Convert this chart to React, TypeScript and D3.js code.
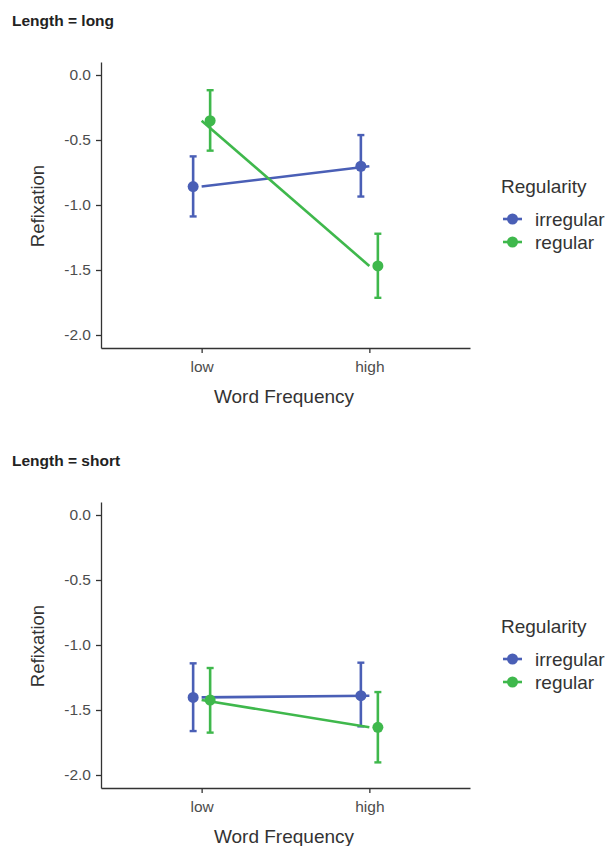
import React, { useRef, useEffect } from "react";
import * as d3 from "d3";

const FREQS = ["low", "high"];
const GROUPS = ["irregular", "regular"];
const COLORS = ["#4a5fb6", "#3fb84c"];
const PANELS = ["long", "short"];

// mean, lower, upper per group, per frequency
const LONG_IRREG = [[-0.858, -1.088, -0.626], [-0.702, -0.935, -0.462]];
const LONG_REG = [[-0.352, -0.582, -0.117], [-1.469, -1.714, -1.221]];
const SHORT_IRREG = [[-1.403, -1.662, -1.141], [-1.390, -1.626, -1.136]];
const SHORT_REG = [[-1.423, -1.674, -1.177], [-1.633, -1.903, -1.362]];

const Y_TICKS = [0, -0.5, -1, -1.5, -2];
const FONT = "'Liberation Sans', Arial, sans-serif";

const W = 606;
const H = 846;
const PANEL_H = 440;
const dodge = 8.5;

const Panel = ({ title, series, top }) => {
  const xAxisRef = useRef(null),
    yAxisRef = useRef(null);

  const x = d3.scalePoint().domain(FREQS).range([101, 470]).padding(0.6);
  const y = d3.scaleLinear().domain([-2.1, 0.1]).range([348, 62]);
  const line = d3
    .line()
    .x(d => x(d.f))
    .y(d => y(d.v));

  useEffect(() => {
    const styleAxis = sel => {
      sel.attr("font-size", null).attr("font-family", null);
      sel.select(".domain").attr("stroke", "#333").attr("stroke-width", 1.3);
      sel.selectAll(".tick line").attr("stroke", "#333").attr("stroke-width", 1.3);
      sel
        .selectAll(".tick text")
        .attr("fill", "#4d4d4d")
        .style("font-size", "15.5px")
        .style("font-family", FONT);
    };
    d3.select(xAxisRef.current)
      .call(d3.axisBottom(x).tickSize(5).tickSizeOuter(0).tickPadding(8))
      .call(styleAxis);
    d3.select(yAxisRef.current)
      .call(
        d3
          .axisLeft(y)
          .tickValues(Y_TICKS)
          .tickFormat(d => d.toFixed(1))
          .tickSize(5)
          .tickSizeOuter(0)
          .tickPadding(5)
      )
      .call(styleAxis);
  });

  return (
    <g transform={`translate(0, ${top})`}>
      <text x={12} y={26} fontFamily={FONT} fontWeight="bold" fontSize="15.5px" fill="#222">
        Length = {title}
      </text>
      <g ref={xAxisRef} transform={`translate(0, ${y.range()[0]})`} />
      <g ref={yAxisRef} transform={`translate(101, 0)`} />
      <text
        transform={`translate(44, 206) rotate(-90)`}
        textAnchor="middle"
        fontFamily={FONT}
        fontSize="18.5px"
        fill="#333"
      >
        Refixation
      </text>
      <text x={284} y={403} textAnchor="middle" fontFamily={FONT} fontSize="19px" fill="#333">
        Word Frequency
      </text>
      {series.map((s, gi) => {
        const off = gi === 0 ? -dodge : dodge;
        const pts = FREQS.map((f, fi) => ({ f, v: s[fi][0] }));
        return (
          <g key={gi} stroke={COLORS[gi]} fill={COLORS[gi]}>
            <path d={line(pts)} fill="none" strokeWidth={2.6} />
            {FREQS.map((f, fi) => {
              const cx = x(f) + off;
              const [m, lo, hi] = s[fi];
              return (
                <g key={f}>
                  <line x1={cx} x2={cx} y1={y(lo)} y2={y(hi)} strokeWidth={2.6} />
                  <line x1={cx - 3.5} x2={cx + 3.5} y1={y(lo)} y2={y(lo)} strokeWidth={2.4} />
                  <line x1={cx - 3.5} x2={cx + 3.5} y1={y(hi)} y2={y(hi)} strokeWidth={2.4} />
                  <circle cx={cx} cy={y(m)} r={5.5} stroke="none" />
                </g>
              );
            })}
          </g>
        );
      })}
      <g fontFamily={FONT}>
        <text x={501} y={193} fontSize="19px" fill="#333">
          Regularity
        </text>
        {GROUPS.map((g, gi) => (
          <g key={g} transform={`translate(0, ${219 + gi * 23})`}>
            <line x1={503} x2={522} y1={0} y2={0} stroke={COLORS[gi]} strokeWidth={2.6} />
            <circle cx={512.5} cy={0} r={5.5} fill={COLORS[gi]} />
            <text x={535} y={6.5} fontSize="19px" fill="#333">
              {g}
            </text>
          </g>
        ))}
      </g>
    </g>
  );
};

export default function App() {
  const data = [
    [LONG_IRREG, LONG_REG],
    [SHORT_IRREG, SHORT_REG],
  ];
  return (
    <svg
      width={W}
      height={H}
      style={{ position: "absolute", left: 0, top: 0, background: "#fff" }}
    >
      {PANELS.map((p, i) => (
        <Panel key={p} title={p} series={data[i]} top={i * PANEL_H} />
      ))}
    </svg>
  );
}
